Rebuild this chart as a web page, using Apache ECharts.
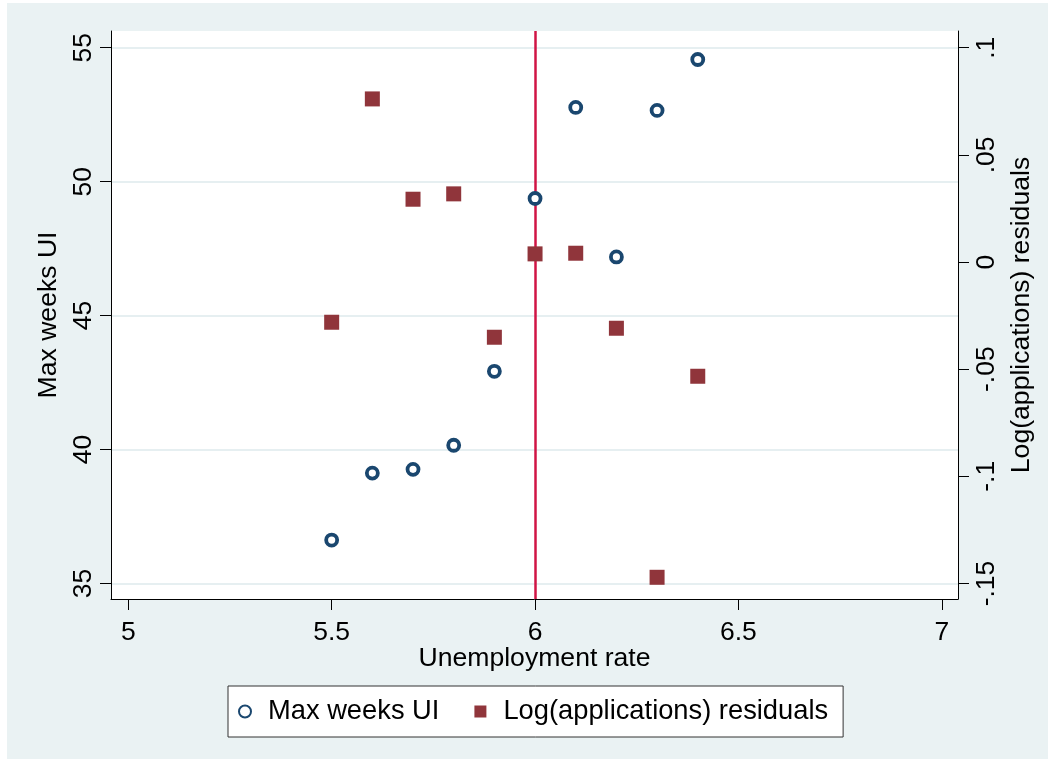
<!DOCTYPE html>
<html>
<head>
<meta charset="utf-8">
<script src="https://cdn.jsdelivr.net/npm/echarts@6/dist/echarts.min.js"></script>
<style>
  html, body { margin: 0; padding: 0; background: #fff; }
  #main { width: 1053px; height: 769px; }
</style>
</head>
<body>
<div id="main"></div>
<script>
// unemployment rate (x)
let unemp = [5.5, 5.6, 5.7, 5.8, 5.9, 6.0, 6.1, 6.2, 6.3, 6.4];
// max weeks of UI (left axis)
let maxWeeks = [36.62, 39.12, 39.26, 40.16, 42.92, 49.37, 52.77, 47.19, 52.66, 54.56];
// log(applications) residuals (right axis)
let residuals = [-0.0281, 0.0761, 0.0293, 0.0318, -0.0351, 0.0038, 0.0041, -0.0309, -0.1471, -0.0533];

let xTicks = [5, 5.5, 6, 6.5, 7];
let leftTicks = [35, 40, 45, 50, 55];
let rightTicks = [-0.15, -0.1, -0.05, 0, 0.05, 0.1];
let cutoff = 6;

let font = '"Liberation Sans", Arial, sans-serif';
let bg = '#EAF2F3';

let myChart = echarts.init(document.getElementById('main'));

myChart.setOption({
    backgroundColor: '#fff',
    animation: false,
    textStyle: { fontFamily: font },
    graphic: [
        {
            type: 'rect', z: -10, silent: true,
            shape: { x: 7, y: 3, width: 1041, height: 756 },
            style: { fill: bg }
        },
        {
            type: 'rect', z: -9, silent: true,
            shape: { x: 111, y: 31, width: 847, height: 568 },
            style: { fill: '#fff' }
        }
    ],
    grid: { left: 111, right: 95, top: 31, bottom: 170 },
    legend: {
        left: 228, top: 686,
        orient: 'horizontal',
        backgroundColor: '#fff',
        borderColor: '#333',
        borderWidth: 1,
        padding: [12, 15, 12, 10],
        itemWidth: 12, itemHeight: 12,
        itemGap: 35,
        textStyle: { fontSize: 27.3, color: '#000', fontFamily: font, padding: [0, 0, 0, 12] },
        data: ['Max weeks UI', 'Log(applications) residuals']
    },
    xAxis: {
        type: 'value',
        min: 4.9575, max: 7.0398,
        name: 'Unemployment rate',
        nameLocation: 'middle',
        nameGap: 46,
        nameMoveOverlap: false,
        nameTextStyle: { fontSize: 26.6, color: '#000' },
        axisLine: { show: true, onZero: false, lineStyle: { color: '#000', width: 1 } },
        axisTick: { show: true, length: 11, lineStyle: { color: '#000' }, customValues: xTicks },
        axisLabel: { fontSize: 26.5, color: '#000', margin: 20, customValues: xTicks },
        splitLine: { show: false }
    },
    yAxis: [
        {
            type: 'value',
            position: 'left',
            min: 34.421, max: 55.623,
            name: 'Max weeks UI',
            nameLocation: 'middle',
            nameRotate: 90,
            nameGap: 41,
            nameTextStyle: { fontSize: 26.6, color: '#000' },
            axisLine: { show: true, onZero: false, lineStyle: { color: '#000', width: 1 } },
            axisTick: { show: true, length: 11, lineStyle: { color: '#000' }, customValues: leftTicks },
            axisLabel: { fontSize: 26.5, color: '#000', rotate: 90, margin: 14, customValues: leftTicks },
            splitLine: { show: true, lineStyle: { color: '#E6EFF1', width: 2 } }
        },
        {
            type: 'value',
            position: 'right',
            min: -0.15723, max: 0.10779,
            name: 'Log(applications) residuals',
            nameLocation: 'middle',
            nameRotate: 90,
            nameGap: 50,
            nameTextStyle: { fontSize: 26.6, color: '#000' },
            axisLine: { show: true, onZero: false, lineStyle: { color: '#000', width: 1 } },
            axisTick: { show: true, length: 11, lineStyle: { color: '#000' }, customValues: rightTicks },
            axisLabel: {
                fontSize: 26.5, color: '#000', rotate: 90, margin: 15, customValues: rightTicks,
                formatter: v => {
                    let s = String(Math.round(v * 1000) / 1000);
                    return s.replace(/^0\./, '.').replace(/^-0\./, '-.');
                }
            },
            splitLine: { show: false }
        }
    ],
    series: [
        {
            name: 'Max weeks UI',
            type: 'scatter',
            yAxisIndex: 0,
            z: 10,
            symbol: 'circle',
            symbolSize: 11,
            itemStyle: { color: '#fff', borderColor: '#1A476F', borderWidth: 3.8, opacity: 1 },
            data: unemp.map((x, i) => [x, maxWeeks[i]]),
            markLine: {
                silent: true,
                symbol: 'none',
                z: 1,
                label: { show: false },
                lineStyle: { color: '#D01445', width: 2.5, type: 'solid' },
                data: [{ xAxis: cutoff }]
            }
        },
        {
            name: 'Log(applications) residuals',
            type: 'scatter',
            yAxisIndex: 1,
            z: 10,
            symbol: 'rect',
            symbolSize: 15,
            itemStyle: { color: '#90353B', opacity: 1 },
            data: unemp.map((x, i) => [x, residuals[i]])
        }
    ]
});

window.addEventListener('resize', () => { myChart.resize() });
</script>
</body>
</html>
